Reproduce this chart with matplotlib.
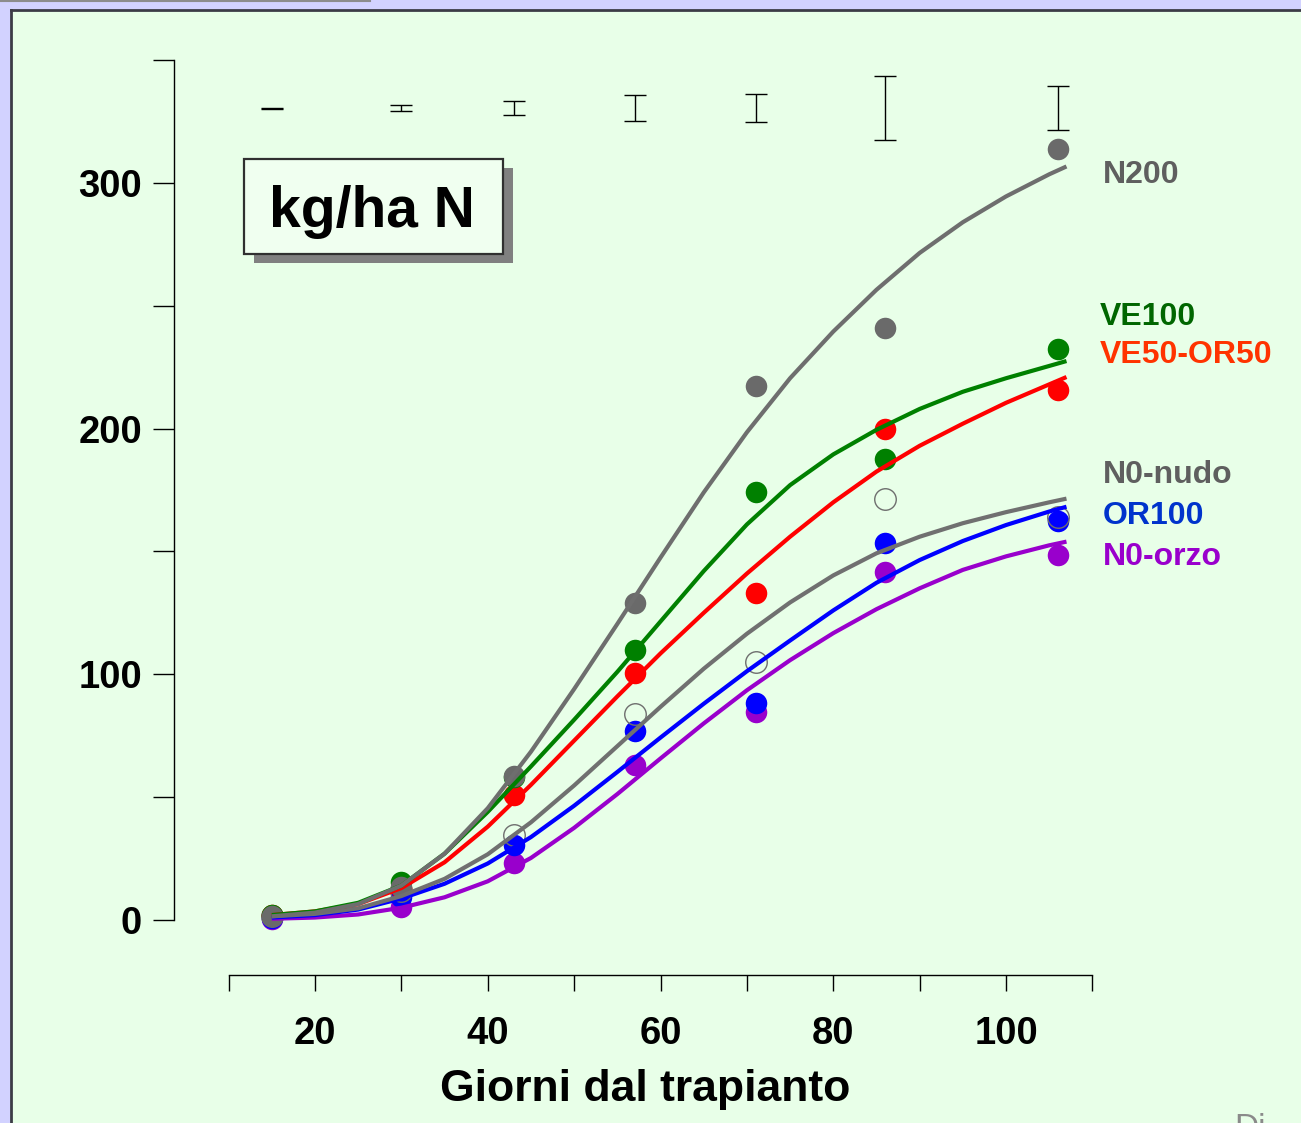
import matplotlib
matplotlib.use("Agg")
import matplotlib.pyplot as plt
from matplotlib.patches import Rectangle
from matplotlib.lines import Line2D
from matplotlib.ticker import MultipleLocator

plt.rcParams["font.family"] = ["Liberation Sans", "DejaVu Sans"]
plt.rcParams["font.weight"] = "bold"

# Sampling days (measured points)
days = [15, 30, 43, 57, 71, 86, 106]

# Measured N uptake (kg/ha N)
n200      = [1.6, 13.4, 58.6, 129.0, 217.3, 241.0, 313.8]
ve100     = [2.0, 15.5, 58.0, 110.0, 174.2, 187.6, 232.4]
ve50_or50 = [2.0, 13.0, 50.9, 100.5, 133.0, 199.8, 215.7]
n0_nudo   = [1.5, 12.0, 34.6, 83.8, 105.0, 171.3, 164.0]
or100     = [1.0, 9.4, 30.5, 77.0, 88.3, 153.4, 162.4]
n0_orzo   = [0.3, 5.3, 23.3, 63.0, 84.7, 141.6, 148.6]

# Fitted curves, every 5 days
curveDays = [15, 20, 25, 30, 35, 40, 45, 50, 55, 60, 65, 70, 75, 80, 85,
             90, 95, 100, 105, 107]
n200Fit   = [1.5, 3, 6.5, 14, 27, 45.5, 68.5, 94, 120.5, 147.5, 174, 198.5,
             220.5, 239.5, 256.5, 271.5, 284, 294.5, 303.5, 306.7]
ve100Fit  = [2, 3.5, 7, 14, 27, 44, 62.5, 81.5, 101, 121.5, 142, 161, 177,
             189.5, 199.5, 208, 215, 220.5, 225.5, 227.5]
ve50Fit   = [2, 3.5, 6.5, 13, 23.5, 38, 55, 73, 91, 108.5, 125, 141, 156,
             170, 182.5, 193, 202, 210.5, 218, 221]
nudoFit   = [1.5, 2.5, 4.75, 9.75, 16.75, 26.75, 39.75, 54.75, 70.75, 86.75,
             102.25, 116.5, 129.25, 140.25, 149.25, 156, 161.5, 166, 170,
             171.5]
or100Fit  = [1, 2, 4.25, 8.75, 14.75, 23, 33.75, 46.5, 60.25, 74.25, 88,
             101.25, 113.75, 126, 137.25, 146.5, 154.25, 160.75, 166.25,
             168.2]
orzoFit   = [0.5, 1, 2.25, 5, 9.25, 15.75, 25.25, 37.5, 51.25, 65.75, 80,
             93.5, 105.75, 116.75, 126.5, 135, 142.5, 148, 152.5, 154]

# LSD bars drawn at the top of the plot
lsdLevel = 330.4
lsd      = [0.4, 2.3, 5.7, 10.6, 11.4, 26.0, 17.9]

W, H = 1301, 1123

def fx(px):
    return px / W

def fy(py):
    return 1 - py / H

fig = plt.figure(figsize=(W / 100, H / 100), dpi=100, facecolor="#D2D2FF")

# Slide background and frame
fig.add_artist(Rectangle((fx(12), 0), 1 - fx(12), fy(10),
                         transform=fig.transFigure, facecolor="#E8FFE8",
                         edgecolor="none", zorder=0))
fig.add_artist(Line2D([fx(11), fx(11)], [0, fy(10)], lw=2.0,
                      color="#3C3C46", transform=fig.transFigure))
fig.add_artist(Line2D([fx(11), 1], [fy(10), fy(10)], lw=2.0,
                      color="#3C3C46", transform=fig.transFigure))
fig.add_artist(Line2D([0, fx(370)], [fy(0.8), fy(0.8)], lw=1.5,
                      color="#8C8C8C", transform=fig.transFigure))

ax = fig.add_axes([fx(174), fy(975), (1100 - 174) / W, (975 - 55) / H])
ax.patch.set_visible(False)
ax.set_xlim(3.676, 110.88)
ax.set_ylim(-22.385, 352.06)

series = [
    (n0_orzo,   orzoFit,  "#9900CC", "#9900CC", True),
    (or100,     or100Fit, "#0000FF", "#0000FF", True),
    (n0_nudo,   nudoFit,  "#707070", "#6E6E6E", False),
    (ve50_or50, ve50Fit,  "#FF0000", "#FF0000", True),
    (ve100,     ve100Fit, "#008000", "#008000", True),
    (n200,      n200Fit,  "#6E6E6E", "#6A6A6A", True),
]

for pts, fit, lineColor, markColor, filled in series:
    if filled:
        ax.plot(days, pts, "o", ms=15.5, color=markColor, mec="none",
                zorder=3)
    else:
        ax.plot(days, pts, "o", ms=15.5, mfc="none", mec=markColor,
                mew=1.0, zorder=3)
    ax.plot(curveDays, fit, "-", lw=3.0, color=lineColor, zorder=4,
            solid_joinstyle="round", solid_capstyle="butt")

ax.errorbar(days, [lsdLevel] * len(days), yerr=[v / 2 for v in lsd],
            fmt="none", ecolor="black", elinewidth=1.0, capsize=8,
            capthick=1.0, zorder=5)

# Axes look
for side in ["top", "right"]:
    ax.spines[side].set_visible(False)
ax.spines["left"].set_bounds(0, 350)
ax.spines["bottom"].set_bounds(10, 110)
ax.spines["left"].set_linewidth(1.0)
ax.spines["bottom"].set_linewidth(1.0)

ax.set_xticks([20, 40, 60, 80, 100])
ax.set_xticks([10, 30, 50, 70, 90, 110], minor=True)
ax.set_yticks([0, 100, 200, 300])
ax.set_yticks([50, 150, 250, 350], minor=True)

ax.tick_params(axis="x", which="both", direction="out", length=11.5,
               width=1.0, pad=18, labelsize=27.5)
ax.tick_params(axis="y", which="both", direction="out", length=15,
               width=1.0, pad=8, labelsize=27.5)
for lab in ax.get_xticklabels() + ax.get_yticklabels():
    lab.set_fontweight("bold")

ax.set_xlabel("Giorni dal trapianto", fontsize=32, fontweight="bold")
ax.xaxis.set_label_coords((645 - 174) / 926, -(1069 - 975) / 920)

# Unit box with shadow
bx0, by0, bx1, by1 = 244, 159, 503, 254
fig.add_artist(Rectangle((fx(bx0 + 10), fy(by1 + 9)), (bx1 - bx0) / W,
                         (by1 - by0) / H, transform=fig.transFigure,
                         facecolor="#808080", edgecolor="none", zorder=6))
fig.add_artist(Rectangle((fx(bx0), fy(by1)), (bx1 - bx0) / W,
                         (by1 - by0) / H, transform=fig.transFigure,
                         facecolor="#F0FFF0", edgecolor="#303030", lw=1.6,
                         zorder=7))
fig.text(fx(372), fy(227), "kg/ha N", fontsize=41, fontweight="bold",
         ha="center", va="baseline", color="black", zorder=8)

# Series labels
labels = [
    ("N200",      1103, 175, "#5F5F5F"),
    ("VE100",     1100, 317, "#006600"),
    ("VE50-OR50", 1100, 355, "#FF3300"),
    ("N0-nudo",   1103, 475, "#5F5F5F"),
    ("OR100",     1103, 516, "#0033CC"),
    ("N0-orzo",   1103, 557, "#9900CC"),
]
for txt, px, py, col in labels:
    fig.text(fx(px), fy(py), txt, fontsize=23, fontweight="bold",
             color=col, ha="left", va="center")

# Cut-off footer text at the slide edge (as in the original slide)
fig.text(fx(1234), fy(1113), "Di", fontsize=24, fontweight="normal",
         color="#8A8A8A", ha="left", va="top")

fig.savefig("out.png", dpi=100, facecolor=fig.get_facecolor())
